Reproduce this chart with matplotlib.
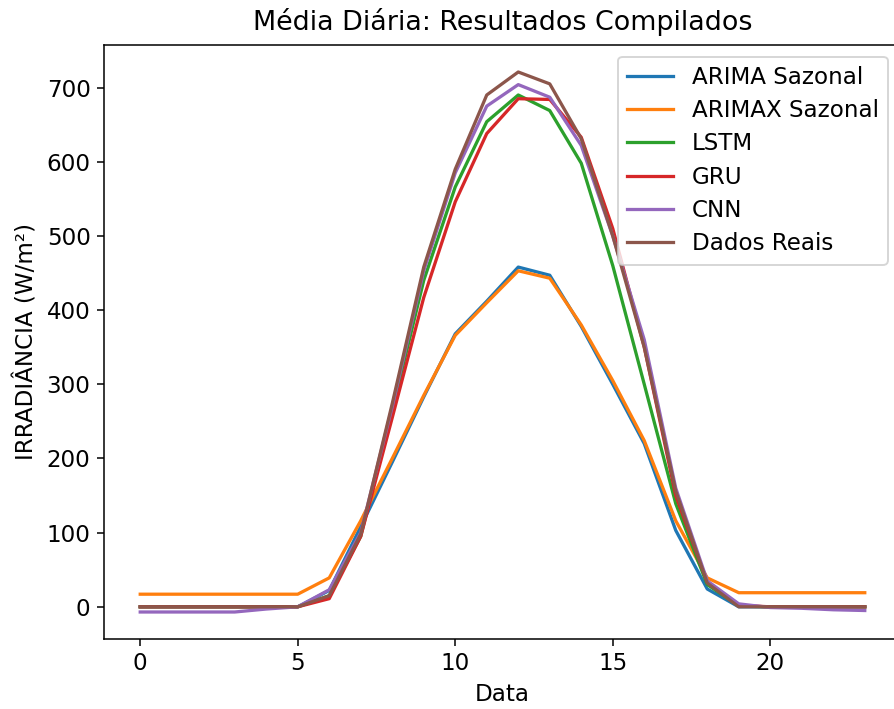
import matplotlib
matplotlib.use("Agg")
import matplotlib.pyplot as plt
import numpy as np

hours = list(range(24))
arima = [0, 0, 0, 0, 0, 0, 22, 108, 195, 283, 368, 412, 458, 447, 378, 300, 220, 103, 24, 0, 0, 0, 0, 0]
arimax = [17, 17, 17, 17, 17, 17, 39, 116, 200, 285, 366, 410, 453, 443, 380, 305, 224, 116, 39, 19, 19, 19, 19, 19]
lstm = [0, 0, 0, 0, 0, 0, 15, 95, 265, 440, 566, 654, 690, 669, 598, 460, 300, 139, 30, 1, 0, 0, 0, 0]
gru = [0, 0, 0, 0, 0, 0, 11, 95, 255, 417, 546, 638, 685, 684, 633, 510, 350, 150, 33, 2, 0, 0, 0, 0]
cnn = [-7, -7, -7, -7, -3, 0, 23, 100, 270, 453, 585, 675, 704, 687, 622, 500, 360, 160, 35, 4, -1, -2, -4, -5]
reais = [0, 0, 0, 0, 0, 0, 15, 98, 274, 458, 590, 690, 721, 705, 631, 500, 350, 156, 32, 0, 0, 0, 0, 0]

labels = ["ARIMA Sazonal", "ARIMAX Sazonal", "LSTM", "GRU", "CNN", "Dados Reais"]
series = [arima, arimax, lstm, gru, cnn, reais]

dpi = 138
W, H = 894, 709
plt.rcParams["font.size"] = 12
fig = plt.figure(figsize=(W / dpi, H / dpi), dpi=dpi)
ax = fig.add_axes([104 / W, (H - 639) / H, 797 / W, (639 - 45) / H])

for s, lab in zip(series, labels):
    ax.plot(hours, s, label=lab, linewidth=1.7)

ax.set_title("Média Diária: Resultados Compilados", fontsize=14, pad=8)
ax.set_xlabel("Data")
ax.set_ylabel("IRRADIÂNCIA (W/m²)")
ax.set_xticks([0, 5, 10, 15, 20])
ax.spines["right"].set_visible(False)
ax.legend(loc="upper right", bbox_to_anchor=((888 + 11.5 - 104) / 797, 1.0),
          labelspacing=0.45)

fig.savefig("out.png", dpi=dpi)
